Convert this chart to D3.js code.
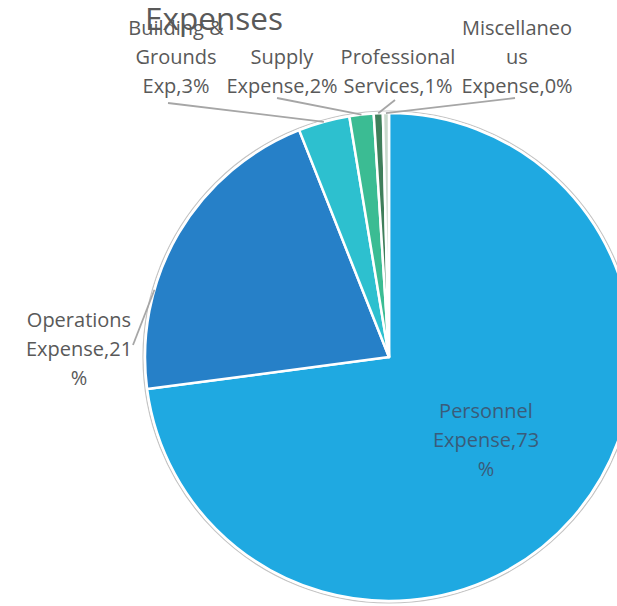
<!DOCTYPE html>
<html>
<head>
<meta charset="utf-8">
<script src="https://cdn.jsdelivr.net/npm/d3@7"></script>
<style>
  html, body { margin: 0; padding: 0; background: #ffffff; }
  svg { display: block; }
</style>
</head>
<body>
<svg id="chart" width="617" height="606"></svg>
<script>
// Expense categories and their share of the total, in percent
const categories = [
  "Personnel Expense",
  "Operations Expense",
  "Building & Grounds Exp",
  "Supply Expense",
  "Professional Services",
  "Miscellaneous Expense"
];
const shares = [72.9, 21.1, 3.4, 1.6, 0.6, 0.4];
const sliceColors = ["#1fa9e1", "#2680c8", "#2dc0cf", "#3bbc93", "#3f7f5b", "#c9d9cc"];
const chartTitle = "Expenses";

// Label placement: block centre x, reference baseline y, wrap width and leader start
const labelLayout = [
  { x: 486, y: 447, anchor: "middle", wrap: 110, inside: true },
  { x: 79,  y: 356, anchor: "middle", wrap: 110, leader: [133, 345], leaderDeg: 286 },
  { x: 176, y: 93,  anchor: "bottom", wrap: 116, leader: [168, 103] },
  { x: 282, y: 93,  anchor: "bottom", wrap: 116, leader: [277, 98] },
  { x: 398, y: 93,  anchor: "bottom", wrap: 116, leader: [395, 100] },
  { x: 517, y: 93,  anchor: "bottom", wrap: 116, leader: [515, 98] }
];

const W = 617, H = 606;
const cx = 389, cy = 357, radius = 244;
const lineHeight = 29;
const labelFont = "'Open Sans', 'Noto Sans', sans-serif";

const svg = d3.select("#chart");
svg.append("rect").attr("width", W).attr("height", H).attr("fill", "#ffffff");

const data = categories.map((name, i) => ({ name, value: shares[i], color: sliceColors[i], layout: labelLayout[i] }));
const total = d3.sum(shares);

const pie = d3.pie().value(d => d.value).sort(null).startAngle(0).endAngle(2 * Math.PI);
const arcs = pie(data);
const arc = d3.arc().innerRadius(0).outerRadius(radius);

// Chart title
svg.append("text")
  .attr("x", 145).attr("y", 30)
  .attr("font-family", labelFont)
  .attr("font-size", 31.5)
  .attr("fill", "#595959")
  .text(chartTitle);

const g = svg.append("g").attr("transform", `translate(${cx},${cy})`);

// Faint outline around the pie
g.append("circle")
  .attr("r", radius + 2)
  .attr("fill", "none")
  .attr("stroke", "#c4c4c4")
  .attr("stroke-width", 1.2);

g.selectAll("path.slice")
  .data(arcs)
  .join("path")
  .attr("class", "slice")
  .attr("d", arc)
  .attr("fill", d => d.data.color)
  .attr("stroke", "#ffffff")
  .attr("stroke-width", 2.5)
  .attr("stroke-linejoin", "round");

// Text measurement helper for wrapping
const measure = svg.append("text")
  .attr("font-family", labelFont)
  .attr("font-size", 20)
  .attr("visibility", "hidden");
function textWidth(s) {
  measure.text(s);
  return measure.node().getComputedTextLength();
}
// Greedy word wrap; words longer than the width are broken by character
function wrap(str, maxW) {
  const words = str.split(" ");
  const lines = [];
  let cur = "";
  words.forEach(w => {
    const trial = cur ? cur + " " + w : w;
    if (textWidth(trial) <= maxW) { cur = trial; return; }
    if (cur) { lines.push(cur); cur = ""; }
    let piece = "";
    for (const ch of w) {
      if (textWidth(piece + ch) <= maxW || piece === "") piece += ch;
      else { lines.push(piece); piece = ch; }
    }
    cur = piece;
  });
  if (cur) lines.push(cur);
  return lines;
}

function polar(angle, r) {
  return [cx + r * Math.sin(angle), cy - r * Math.cos(angle)];
}

const pctFmt = v => Math.round(v / total * 100) + "%";

// Leader lines
arcs.forEach(a => {
  const L = a.data.layout;
  if (!L.leader) return;
  const ang = L.leaderDeg != null ? L.leaderDeg * Math.PI / 180 : (a.startAngle + a.endAngle) / 2;
  const end = polar(ang, radius);
  svg.append("line")
    .attr("x1", L.leader[0]).attr("y1", L.leader[1])
    .attr("x2", end[0]).attr("y2", end[1])
    .attr("stroke", "#a6a6a6")
    .attr("stroke-width", 1.8);
});

// Data labels
arcs.forEach(a => {
  const L = a.data.layout;
  const lines = wrap(a.data.name + "," + pctFmt(a.data.value), L.wrap);
  const n = lines.length;
  const firstY = L.anchor === "bottom" ? L.y - (n - 1) * lineHeight : L.y - (n - 1) / 2 * lineHeight;
  const t = svg.append("text")
    .attr("font-family", labelFont)
    .attr("font-size", 20)
    .attr("text-anchor", "middle")
    .attr("fill", L.inside ? "#3a5c7a" : "#595959");
  lines.forEach((ln, i) => {
    t.append("tspan").attr("x", L.x).attr("y", firstY + i * lineHeight).text(ln);
  });
});
measure.remove();
</script>
</body>
</html>
